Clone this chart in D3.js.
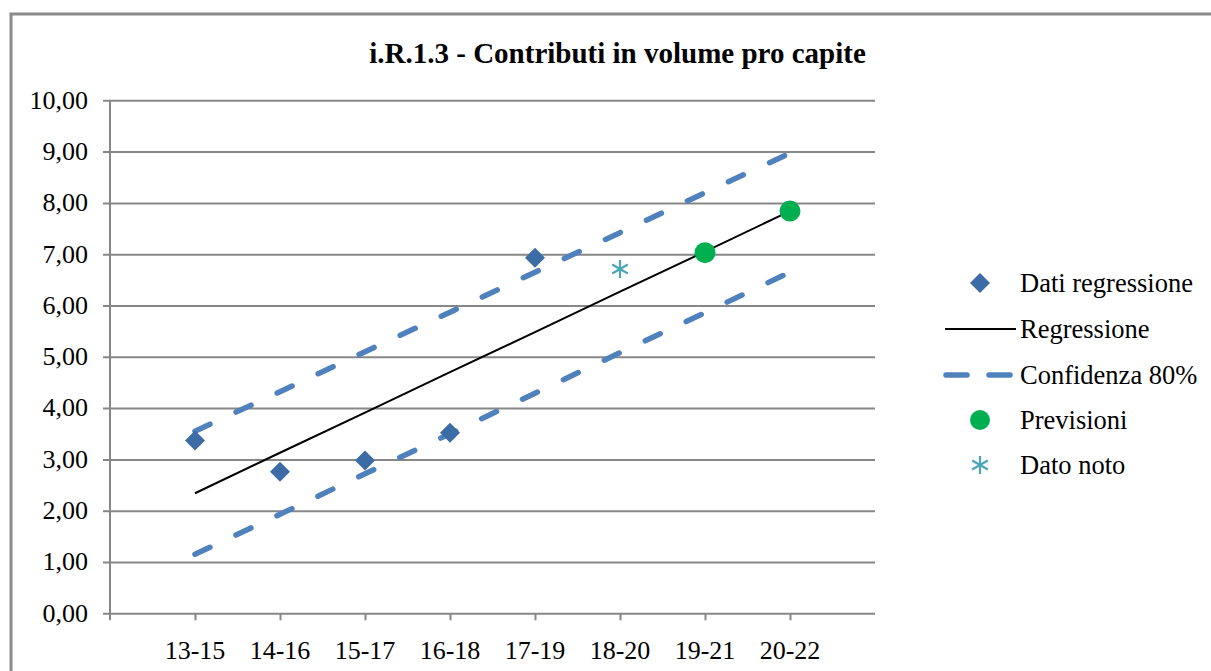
<!DOCTYPE html>
<html><head><meta charset="utf-8">
<script src="https://cdn.jsdelivr.net/npm/d3@7"></script>
<style>
body{margin:0;background:#fff}
#wrap{position:relative;width:1211px;height:671px;overflow:hidden}
#wrap svg{position:absolute;left:0;top:0}
.lbl{position:absolute;white-space:nowrap;font-family:'Liberation Serif';color:#000;margin:0;padding:0}
</style>
</head><body><div id="wrap"><svg id="c" width="1211" height="671"></svg></div>
<script>
const categories = ["13-15","14-16","15-17","16-18","17-19","18-20","19-21","20-22"];
const yTicks = [0,1,2,3,4,5,6,7,8,9,10];
const datiRegressione = [3.37, 2.76, 2.98, 3.52, 6.93];
const regressione = [2.34, 3.13, 3.91, 4.70, 5.48, 6.27, 7.05, 7.84];
const confidenzaSup = [3.55, 4.32, 5.10, 5.87, 6.65, 7.42, 8.20, 8.97];
const confidenzaInf = [1.15, 1.93, 2.72, 3.50, 4.29, 5.08, 5.86, 6.65];
const previsioni = [null, null, null, null, null, null, 7.03, 7.84];
const datoNoto = [null, null, null, null, null, 6.71, null, null];
const title = "i.R.1.3 - Contributi in volume pro capite";
const legendLabels = ["Dati regressione","Regressione","Confidenza 80%","Previsioni","Dato noto"];

const C = {grid:"#878787", diamond:"#3d6ba6", dash:"#4f81bd", green:"#00b050", star:"#4aa6b8"};
const wrap = d3.select("#wrap");
const svg = d3.select("#c");
const x = d3.scaleLinear().domain([0, 9]).range([110, 875]);
const y = d3.scaleLinear().domain([0, 10]).range([613.3, 100.3]);
const xi = i => x(i + 1);

// text label helper: (x, baseline) anchored start / middle / end
function label(txt, lx, base, anchor, size, bold) {
  const shift = anchor === "middle" ? "-50%" : anchor === "end" ? "-100%" : "0";
  wrap.append("div").attr("class","lbl")
    .style("left", lx + "px")
    .style("top", (base - 0.891 * size) + "px")
    .style("font-size", size + "px")
    .style("line-height", (1.107 * size) + "px")
    .style("font-weight", bold ? "bold" : "normal")
    .style("transform", `translateX(${shift})`)
    .text(txt);
}

// frame
svg.append("path").attr("d","M11,680 V14 H1215").attr("fill","none").attr("stroke","#8a8a8a").attr("stroke-width",3);

// title
label(title, 617.5, 63, "middle", 29, true);

// y axis with gridlines
const yAxis = d3.axisLeft(y).tickValues(yTicks).tickSize(-(875-110)).tickFormat("");
const gy = svg.append("g").attr("transform","translate(110,0)").call(yAxis);
gy.selectAll(".tick line").attr("stroke",C.grid).attr("stroke-width",2).attr("x1",-7);
gy.selectAll("text").remove();
gy.select(".domain").remove();
svg.append("line").attr("x1",110).attr("x2",110).attr("y1",y(10)).attr("y2",y(0)+7).attr("stroke",C.grid).attr("stroke-width",2);
yTicks.forEach(v => label(d3.format(".2f")(v).replace(".", ","), 88, y(v) + 9.5, "end", 26, false));

// x axis
const xAxis = d3.axisBottom(x).tickValues(d3.range(1, categories.length + 1)).tickSize(7).tickFormat("");
const gx = svg.append("g").attr("transform",`translate(0,${y(0)})`).call(xAxis);
gx.select(".domain").remove();
gx.selectAll("text").remove();
gx.selectAll(".tick line").attr("stroke",C.grid).attr("stroke-width",2);
categories.forEach((c, i) => label(c, xi(i), 660, "middle", 26, false));

const line = d3.line().defined(d => d != null).x((d, i) => xi(i)).y(d => y(d));
// confidence bands
[confidenzaSup, confidenzaInf].forEach(arr => {
  svg.append("path").attr("d", line(arr)).attr("fill","none").attr("stroke",C.dash)
    .attr("stroke-width",5.5).attr("stroke-linecap","round").attr("stroke-dasharray","16.5,28.8");
});
// regression
svg.append("path").attr("d", line(regressione)).attr("fill","none").attr("stroke","#000").attr("stroke-width",2);

// diamonds
const diamond = d3.symbol().type(d3.symbolSquare).size(200);
svg.selectAll(".dia").data(datiRegressione).join("path")
  .attr("d", diamond).attr("fill",C.diamond)
  .attr("transform",(d,i)=>`translate(${xi(i)},${y(d)}) rotate(45)`);
// previsioni
svg.selectAll(".prev").data(previsioni.map((v,i)=>({v,i})).filter(d=>d.v!=null)).join("circle")
  .attr("cx",d=>xi(d.i)).attr("cy",d=>y(d.v)).attr("r",10.5).attr("fill",C.green);
// dato noto asterisk
function star(g, cx, cy, r){
  g.append("path").attr("d",`M${cx},${cy-r} V${cy+r} M${cx-r*0.87},${cy-r*0.5} L${cx+r*0.87},${cy+r*0.5} M${cx-r*0.87},${cy+r*0.5} L${cx+r*0.87},${cy-r*0.5}`)
   .attr("stroke",C.star).attr("stroke-width",2.2).attr("fill","none");
}
datoNoto.forEach((v,i)=>{ if(v!=null) star(svg, xi(i), y(v), 9); });

// legend
const lg = svg.append("g");
const ly = [283, 329, 375, 420, 465];
legendLabels.forEach((t,k)=> label(t, 1020, ly[k] + 10, "start", 26.5, false));
lg.append("path").attr("d",diamond).attr("fill",C.diamond).attr("transform",`translate(980,${ly[0]}) rotate(45)`);
lg.append("line").attr("x1",945).attr("x2",1016).attr("y1",ly[1]).attr("y2",ly[1]).attr("stroke","#000").attr("stroke-width",2);
lg.append("line").attr("x1",946).attr("x2",1013).attr("y1",ly[2]).attr("y2",ly[2]).attr("stroke",C.dash)
  .attr("stroke-width",5.5).attr("stroke-linecap","round").attr("stroke-dasharray","21,22");
lg.append("circle").attr("cx",980).attr("cy",ly[3]).attr("r",10).attr("fill",C.green);
star(lg, 980, ly[4], 9);
</script></body></html>
